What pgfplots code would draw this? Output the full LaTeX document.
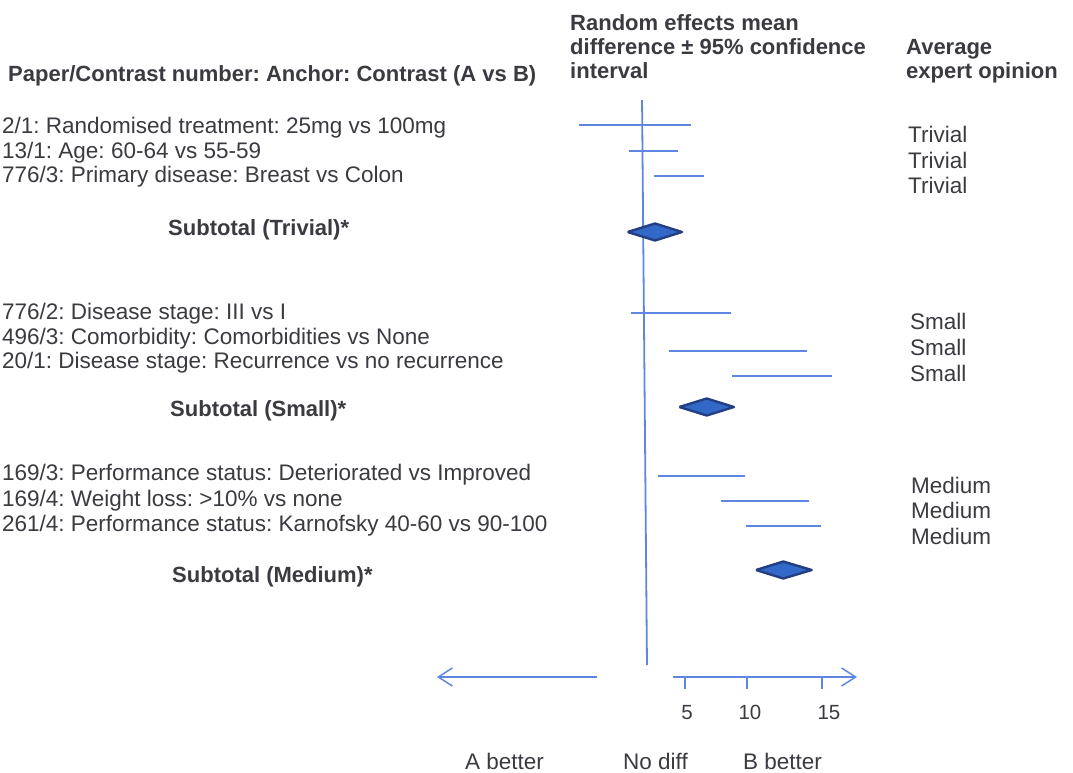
\documentclass[border=0pt]{standalone}
\usepackage{fontspec}
\setmainfont{Liberation Sans}
\usepackage{pgfplots}
\pgfplotsset{compat=1.18}
\usetikzlibrary{arrows.meta}
\definecolor{txt}{RGB}{58,58,64}
\definecolor{ln}{RGB}{95,135,225}
\definecolor{dfill}{RGB}{50,105,200}
\definecolor{ddraw}{RGB}{35,62,130}
\newcommand\fs{\fontsize{22.5bp}{26bp}\selectfont\frenchspacing}
\newcommand\fsb{\fontsize{22bp}{26bp}\selectfont\frenchspacing\bfseries}
\newcommand\fst{\fontsize{20.5bp}{24bp}\selectfont}
\begin{document}
\frenchspacing
\begin{tikzpicture}
\begin{axis}[at={(0,0)}, anchor=south west, scale only axis,
  width=1073bp, height=773bp,
  xmin=-54.661, xmax=36.271, ymin=0, ymax=773, y dir=reverse,
  hide axis, clip=false]
% zero line
\addplot[ln, line width=1.8bp, mark=none] coordinates {(-0.25,100) (0.17,665)};
% confidence intervals (x: mean difference units, y: row position)
\addplot[ln, line width=1.6bp, mark=none] coordinates {(-5.59,125) (3.87,125)};
\addplot[ln, line width=1.6bp, mark=none] coordinates {(-1.33,151) (2.82,151)};
\addplot[ln, line width=1.6bp, mark=none] coordinates {(0.79,176) (4.97,176)};
\addplot[ln, line width=1.6bp, mark=none] coordinates {(-1.19,313) (7.26,313)};
\addplot[ln, line width=1.6bp, mark=none] coordinates {(2.03,351) (13.70,351)};
\addplot[ln, line width=1.6bp, mark=none] coordinates {(7.40,376) (15.85,376)};
\addplot[ln, line width=1.6bp, mark=none] coordinates {(1.08,476) (8.50,476)};
\addplot[ln, line width=1.6bp, mark=none] coordinates {(6.44,501) (13.87,501)};
\addplot[ln, line width=1.6bp, mark=none] coordinates {(8.56,526) (14.92,526)};
% subtotal diamonds
\addplot[fill=dfill, draw=ddraw, line width=2.4bp, line join=round, mark=none]
  coordinates {(-1.47,232) (0.85,223.5) (3.14,232) (0.85,240.5) (-1.47,232)};
\addplot[fill=dfill, draw=ddraw, line width=2.4bp, line join=round, mark=none]
  coordinates {(2.91,407) (5.23,398.5) (7.54,407) (5.23,415.5) (2.91,407)};
\addplot[fill=dfill, draw=ddraw, line width=2.4bp, line join=round, mark=none]
  coordinates {(9.41,570) (11.72,561.5) (14.13,570) (11.72,578.5) (9.41,570)};
% scale arrows and ticks
\addplot[ln, line width=1.5bp, mark=none, -{Straight Barb[length=14bp,width=18bp]}]
  coordinates {(-4.07,677) (-17.63,677)};
\addplot[ln, line width=1.5bp, mark=none, -{Straight Barb[length=14bp,width=18bp]}]
  coordinates {(2.37,677) (17.97,677)};
\addplot[ln, line width=1.5bp, mark=none] coordinates {(3.39,677) (3.39,689)};
\addplot[ln, line width=1.5bp, mark=none] coordinates {(8.64,677) (8.64,689)};
\addplot[ln, line width=1.5bp, mark=none] coordinates {(15.0,677) (15.0,689)};
\end{axis}
\begin{scope}[x=1bp, y=-1bp, yshift=773bp,
  every node/.style={font=\fs, text=txt, inner sep=0pt, anchor=base west}]
% headers
\node[font=\fsb] at (8,82) {Paper/Contrast number: Anchor: Contrast (A vs B)};
\node[font=\fsb] at (570,31) {Random effects mean};
\node[font=\fsb] at (570,55) {difference ± 95\% confidence};
\node[font=\fsb] at (570,79) {interval};
\node[font=\fsb] at (906,55) {Average};
\node[font=\fsb] at (906,79) {expert opinion};
% rows
\node at (2,134) {2/1: Randomised treatment: 25mg vs 100mg};
\node at (2,159) {13/1: Age: 60-64 vs 55-59};
\node at (2,183) {776/3: Primary disease: Breast vs Colon};
\node[font=\fsb] at (168,236) {Subtotal (Trivial)*};
\node at (2,320) {776/2: Disease stage: III vs I};
\node at (2,345) {496/3: Comorbidity: Comorbidities vs None};
\node at (2,369) {20/1: Disease stage: Recurrence vs no recurrence};
\node[font=\fsb] at (170,417) {Subtotal (Small)*};
\node at (2,481) {169/3: Performance status: Deteriorated vs Improved};
\node at (2,507) {169/4: Weight loss: >10\% vs none};
\node at (2,532) {261/4: Performance status: Karnofsky 40-60 vs 90-100};
\node[font=\fsb] at (172,583) {Subtotal (Medium)*};
% expert opinion
\node at (908,143) {Trivial};
\node at (908,169) {Trivial};
\node at (908,194) {Trivial};
\node at (910,330) {Small};
\node at (910,356) {Small};
\node at (910,382) {Small};
\node at (911,494) {Medium};
\node at (911,519) {Medium};
\node at (911,545) {Medium};
% tick labels
\node[font=\fst, anchor=base] at (687,720) {5};
\node[font=\fst, anchor=base] at (750,720) {10};
\node[font=\fst, anchor=base] at (829,720) {15};
\node at (465,770) {A better};
\node at (623,770) {No diff};
\node at (743,770) {B better};
\end{scope}
\pgfresetboundingbox
\path[use as bounding box] (0,0) rectangle (1073bp,773bp);
\end{tikzpicture}
\end{document}
